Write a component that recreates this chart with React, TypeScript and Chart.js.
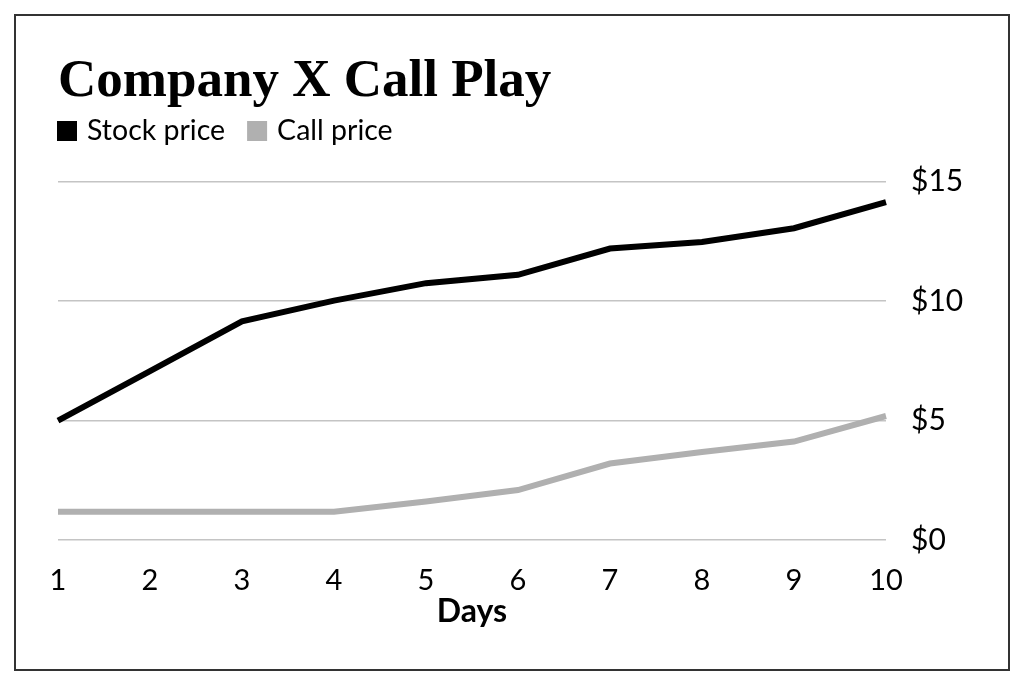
import React, { useEffect, useRef } from "react";
import { Chart, registerables } from "chart.js";

Chart.register(...registerables);

const titleText = "Company X Call Play";
const days = ["1", "2", "3", "4", "5", "6", "7", "8", "9", "10"];
const seriesNames = ["Stock price", "Call price"];
const seriesColors = ["#000000", "#b0b0b0"];
const stockPrice = [5.0, 7.07, 9.15, 10.02, 10.75, 11.1, 12.2, 12.47, 13.05, 14.14];
const callPrice = [1.18, 1.18, 1.18, 1.18, 1.61, 2.09, 3.2, 3.68, 4.12, 5.19];
const yTickValues = [0, 5, 10, 15];
const xAxisTitle = "Days";

const TEXT_FONT = "Lato";

const legendPlugin = {
  id: "customLegend",
  afterDraw(chart: any) {
    const ctx = chart.ctx;
    ctx.save();
    ctx.font = `28.5px ${TEXT_FONT}`;
    ctx.textBaseline = "middle";
    ctx.textAlign = "left";
    let x = chart.chartArea.left - 1;
    const y = 131;
    seriesNames.forEach((name, i) => {
      ctx.fillStyle = seriesColors[i];
      ctx.fillRect(x, y - 10, 20, 20);
      ctx.fillStyle = "#000";
      ctx.fillText(name, x + 30, y);
      x += 30 + ctx.measureText(name).width + 22;
    });
    ctx.restore();
  },
};

export default function App() {
  const canvasRef = useRef<HTMLCanvasElement>(null);

  useEffect(() => {
    document.body.style.margin = "0";
    const canvas = canvasRef.current;
    if (!canvas) return;
    const chart = new Chart(canvas, {
      type: "line",
      data: {
        labels: days,
        datasets: [
          {
            label: seriesNames[0],
            data: stockPrice,
            borderColor: seriesColors[0],
            backgroundColor: seriesColors[0],
            borderWidth: 6,
            pointRadius: 0,
            tension: 0,
          },
          {
            label: seriesNames[1],
            data: callPrice,
            borderColor: seriesColors[1],
            backgroundColor: seriesColors[1],
            borderWidth: 6,
            pointRadius: 0,
            tension: 0,
          },
        ],
      },
      options: {
        responsive: false,
        animation: false,
        layout: { padding: { left: 58, right: 58, top: 0, bottom: 0 } },
        plugins: {
          legend: { display: false },
          tooltip: { enabled: false },
          title: {
            display: true,
            text: titleText,
            align: "start",
            color: "#000",
            font: { family: "Liberation Serif", size: 53, weight: "bold", lineHeight: 1.2 },
            padding: { top: 51, bottom: 67 },
          },
        },
        scales: {
          x: {
            offset: false,
            grid: { display: false, drawTicks: false },
            border: { display: false },
            ticks: {
              color: "#000",
              font: { family: TEXT_FONT, size: 29 },
              padding: 23,
              maxRotation: 0,
              autoSkip: false,
            },
            title: {
              display: true,
              text: xAxisTitle,
              color: "#000",
              font: { family: TEXT_FONT, size: 32, weight: "bold", lineHeight: 1.2 },
              padding: { top: 0, bottom: 54 },
            },
            afterFit: (scale: any) => {
              scale.height = 145;
            },
          },
          y: {
            position: "right",
            min: 0,
            max: 15,
            afterBuildTicks: (scale: any) => {
              scale.ticks = yTickValues.map((v) => ({ value: v }));
            },
            grid: { color: "#c4c4c4", lineWidth: 1.5, drawTicks: false },
            border: { display: false },
            ticks: {
              color: "#000",
              font: { family: TEXT_FONT, size: 30 },
              padding: 25,
              callback: (v: any) => "$" + v,
            },
            afterFit: (scale: any) => {
              scale.width = 80;
            },
          },
        },
      },
      plugins: [legendPlugin],
    });
    return () => chart.destroy();
  }, []);

  return (
    <div style={{ position: "relative", width: 1024, height: 685, background: "#fff" }}>
      <canvas ref={canvasRef} width={1024} height={685} style={{ display: "block" }} />
      <div
        style={{
          position: "absolute",
          left: 14,
          top: 14,
          width: 996,
          height: 657,
          boxSizing: "border-box",
          border: "2px solid #333",
          pointerEvents: "none",
        }}
      />
    </div>
  );
}
